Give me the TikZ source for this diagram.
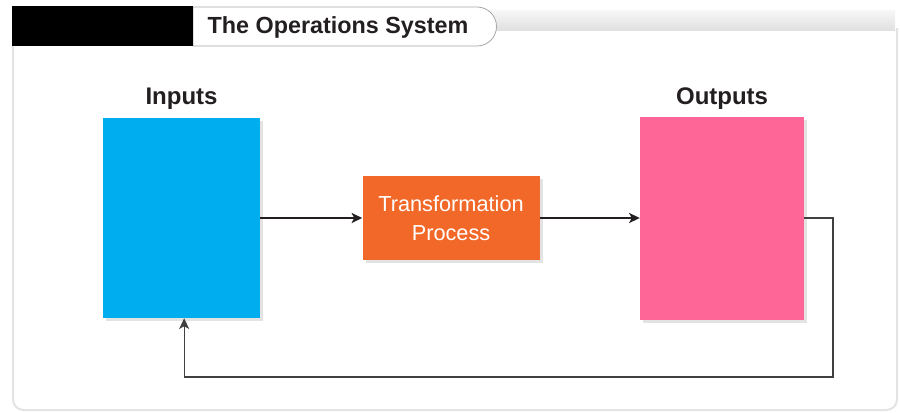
\documentclass[tikz,border=0pt]{standalone}
\usepackage{fontspec}
\setmainfont{Liberation Sans}
\usetikzlibrary{arrows.meta, positioning, shadows}

\definecolor{inblue}{HTML}{00AEEF}
\definecolor{procorange}{HTML}{F26828}
\definecolor{outpink}{HTML}{FE6698}
\definecolor{flowblack}{HTML}{231F20}

\begin{document}
\begin{tikzpicture}
   [
      x=0.75pt, y=0.75pt,
      % Style for the three coloured blocks (size and fill are given per block)
      block/.style={rectangle, inner sep=0pt, drop shadow={opacity=0.22, shadow xshift=2.5pt, shadow yshift=-2.5pt}},
      % Style for the words above the blocks
      heading/.style={inner sep=0pt, text=flowblack, font=\fontsize{18}{20}\selectfont\bfseries},
      % Style for the flow arrows
      flow/.style={-{Stealth[length=8pt, width=7.5pt, inset=2pt]}, line width=1.3pt, flowblack},
      % Style for the feedback loop
      feedback/.style={-{Stealth[length=8pt, width=7.5pt, inset=2pt]}, line width=1pt, black!75},
      % Style for the frame of the panel
      panel/.style={line width=1.5pt, gray!22, rounded corners=8pt}
   ]

    \useasboundingbox (0,0) rectangle (900,412);

    % =======================================================
    % Panel and title tab
    % =======================================================

    \draw[panel] (13,366) -- (13,2) -- (897,2) -- (897,384);
    \shade[top color=gray!6, bottom color=gray!24] (480,382) rectangle (895,402);
    \draw[gray!70, line width=0.6pt, fill=white] (193,405) -- (477,405)
        arc[start angle=90, end angle=-90, radius=19.5] -- (193,366) -- cycle;
    \fill[black] (12,366) rectangle (193,406);
    \node[font=\fontsize{17.5}{19}\selectfont\bfseries, text=flowblack] (title) at (338,385) {The Operations System};

    % =======================================================
    % Blocks: Inputs -> Transformation Process -> Outputs
    % =======================================================

    \node[block, fill=inblue, minimum width=117.75pt, minimum height=150pt] (inputs) at (181.5,194) {};
    \node[block, fill=procorange, minimum width=132.75pt, minimum height=63pt,
          text=white, align=center, font=\fontsize{16.3}{21.5}\selectfont, right=76.5pt of inputs] (process) {Transformation\\Process};
    \node[block, fill=outpink, minimum width=123pt, minimum height=152.25pt, right=75pt of process] (outputs) {};

    % Headings over the blocks
    \node[heading, above=6pt of inputs] (inputslabel) {Inputs};
    \node[heading, above=4.5pt of outputs] (outputslabel) {Outputs};

    % Arrows
    \draw[flow] (inputs) -- (process);
    \draw[flow] (process) -- (outputs);

    % Feedback from the outputs back to the inputs
    \coordinate (loop) at (833,35);
    \draw[feedback] (outputs.east) -| (loop) -| ([xshift=2pt]inputs.south);

\end{tikzpicture}
\end{document}
